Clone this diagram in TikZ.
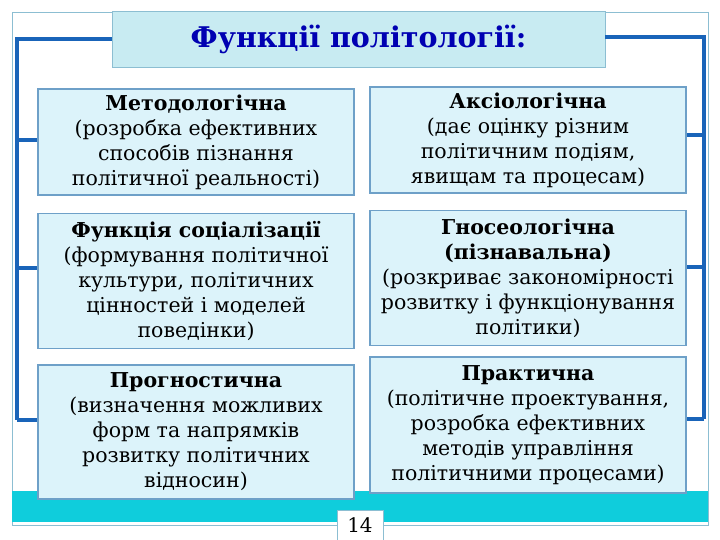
\documentclass[tikz,border=0pt]{standalone}
\usepackage{fontspec}
\setmainfont{DejaVu Serif}
\definecolor{brc}{RGB}{25,100,185}
\definecolor{band}{RGB}{15,205,220}
\definecolor{boxf}{RGB}{220,243,250}
\definecolor{boxd}{RGB}{110,160,200}
\definecolor{titf}{RGB}{200,235,242}
\definecolor{frm}{RGB}{140,190,210}
\begin{document}
\begin{tikzpicture}[x=1pt,y=-1pt,
  fbox/.style={draw=boxd,line width=1.2pt,fill=boxf,minimum width=316pt,align=center,inner sep=0pt,font=\fontsize{20.5}{25}\selectfont},
  br/.style={draw=brc,line width=3.5pt}]
\useasboundingbox (0,0) rectangle (720,540);
\fill[white] (0,0) rectangle (720,540);
\draw[frm,line width=0.8pt] (12,12) rectangle (708,525);
\fill[band] (12,491) rectangle (708,522);
% title
\node[draw=frm,fill=titf,minimum width=493pt,minimum height=56pt,font=\fontsize{28.5}{30}\selectfont\bfseries,text=blue!70!black] (t) at (358.5,39) {Функції політології:};
% boxes
\node[fbox,minimum height=106pt] (a) at (196,142) {\textbf{Методологічна}\\(розробка ефективних\\способів пізнання\\політичної реальності)};
\node[fbox,minimum height=106pt] (b) at (528,140) {\textbf{Аксіологічна}\\(дає оцінку різним\\політичним подіям,\\явищам та процесам)};
\node[fbox,minimum height=135pt] (c) at (196,281) {\textbf{Функція соціалізації}\\(формування політичної\\культури, політичних\\цінностей і моделей\\поведінки)};
\node[fbox,minimum height=135pt] (d) at (528,278) {\textbf{Гносеологічна}\\\textbf{(пізнавальна)}\\(розкриває закономірності\\розвитку і функціонування\\політики)};
\node[fbox,minimum height=134pt] (e) at (196,432) {\textbf{Прогностична}\\(визначення можливих\\форм та напрямків\\розвитку політичних\\відносин)};
\node[fbox,minimum height=136pt] (f) at (528,425) {\textbf{Практична}\\(політичне проектування,\\розробка ефективних\\методів управління\\політичними процесами)};
% brackets
\coordinate (lt) at (17,39); \coordinate (rt) at (704,37);
\draw[br] (t.west|-lt) -- (lt) -- (17,420);
\draw[br] (17,140) -- (a.west|-0,140);
\draw[br] (17,268) -- (c.west|-0,268);
\draw[br] (17,420) -- (e.west|-0,420);
\draw[br] (t.east|-rt) -- (rt) -- (704,419);
\draw[br] (704,135) -- (b.east|-0,135);
\draw[br] (704,267) -- (d.east|-0,267);
\draw[br] (704,419) -- (f.east|-0,419);
% page number
\node[draw=frm,fill=white,minimum width=46pt,minimum height=30pt,font=\fontsize{20}{22}\selectfont] (p) at (360,525) {14};
\end{tikzpicture}
\end{document}
